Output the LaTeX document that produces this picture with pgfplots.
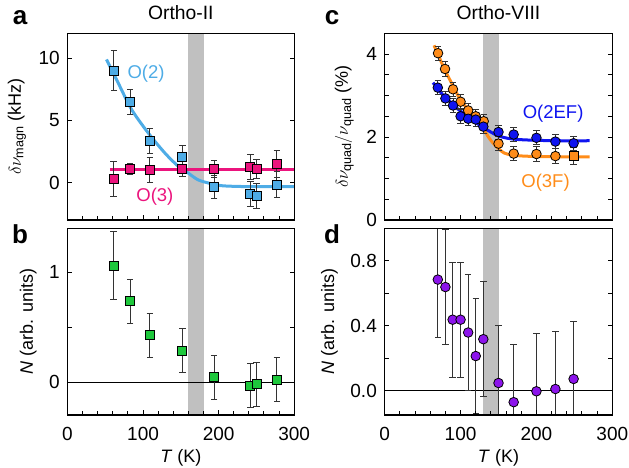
\documentclass[border=0pt]{standalone}
\usepackage{amsmath}
\usepackage{fontspec}
\setmainfont{Liberation Sans}
\usepackage{pgfplots}
\usepackage{pgfplotstable}
\pgfplotsset{compat=1.18}

\definecolor{cLB}{RGB}{78,172,230}
\definecolor{cMG}{RGB}{235,20,125}
\definecolor{cGR}{RGB}{30,200,60}
\definecolor{cOR}{RGB}{255,140,25}
\definecolor{cBL}{RGB}{15,20,240}
\definecolor{cPU}{RGB}{140,20,235}
\definecolor{cBand}{RGB}{192,192,192}

\pgfplotstableread{
T v e
61.4 9.0 1.6
83 6.48 1.0
109 3.36 1.0
152 2.03 0.98
194 -0.37 0.93
242 -0.94 1.0
250 -1.05 1.0
277 -0.16 1.06
}\dataOtwo

\pgfplotstableread{
T v e
61 0.3 1.4
83 1.1 0.45
109 1.05 1.0
152 1.1 0.6
194 1.1 0.7
242 1.29 1.0
250 1.1 0.75
277 1.48 1.1
}\dataOthree

\pgfplotstableread{
T v
51.6 9.9
67 8.02
85 5.86
107 3.98
129 2.37
147 1.29
160 0.76
173 0.22
190 -0.08
205 -0.25
230 -0.31
260 -0.32
300 -0.32
}\fitOtwo

\pgfplotstableread{
T v e
61 1.06 0.31
83 0.735 0.2
109 0.427 0.2
152 0.287 0.2
194 0.043 0.2
242 -0.034 0.2
250 -0.02 0.2
277 0.021 0.2
}\dataNb

\pgfplotstableread{
T v e
70.3 4.02 0.17
79.5 3.64 0.17
90 3.15 0.17
100 2.85 0.17
110 2.64 0.17
120 2.50 0.17
130.5 2.38 0.17
150 1.84 0.17
170 1.60 0.17
200 1.59 0.18
225 1.54 0.18
}\dataOthreeF

\pgfplotstableread{
T v e
249 1.55 0.2
}\dataOthreeFsq

\pgfplotstableread{
T v e
70 3.19 0.17
80 2.93 0.17
90 2.76 0.17
100 2.50 0.17
110 2.44 0.17
120 2.42 0.17
130 2.25 0.17
150 2.12 0.17
170 2.06 0.17
200 1.98 0.17
225 1.89 0.17
249 1.85 0.17
}\dataOtwoEF

\pgfplotstableread{
T v
63.7 3.31
75 3.05
87.8 2.82
98 2.65
109.8 2.50
118 2.38
127.3 2.26
138 2.14
149.3 2.03
162 1.97
175.7 1.94
200 1.92
230 1.91
270 1.91
}\fitOtwoEF

\pgfplotstableread{
T v
65 4.21
70 4.00
79 3.63
92.3 3.15
101 2.86
114 2.58
127.3 2.30
136 2.02
145 1.81
158 1.61
176 1.55
200 1.53
240 1.52
270 1.52
}\fitOthreeF

\pgfplotstableread{
T v e
70 0.684 0.355
80 0.638 0.355
89.5 0.437 0.355
100 0.437 0.355
110 0.358 0.355
120 0.213 0.355
130 0.317 0.355
150 0.047 0.355
170 -0.071 0.355
200 -0.004 0.355
225 0.010 0.355
249 0.072 0.355
}\dataNd

\pgfplotsset{
  myaxis/.style={
    scale only axis, height=186.7bp,
    xmin=0, xmax=300, xtick={0,100,200,300}, minor x tick num=4,
    xtick pos=left, ytick pos=both, tick align=inside,
    axis line style={line width=1.1bp, black},
    major tick style={line width=1bp, black},
    minor tick style={line width=1bp, black},
    major tick length=4.5bp, minor tick length=4bp,
    axis on top,
    /pgf/number format/assume math mode=true,
    tick label style={font=\fontsize{19bp}{22bp}\selectfont},
    label style={font=\fontsize{18bp}{21bp}\selectfont},
    yticklabel style={xshift=-1.5bp},
    xticklabel style={yshift=-6bp},
    title style={at={(0.5,1)}, anchor=base, yshift=8.3bp, font=\fontsize{19.3bp}{22bp}\selectfont},
    xlabel style={at={(0.5,0)}, anchor=base, yshift=-48bp},
  },
  eb/.style={error bars/.cd, y dir=both, y explicit,
    error bar style={line width=0.9bp, black!80},
    error mark options={rotate=90, mark size=3.2bp, line width=0.9bp, black!80}},
  sq/.style={only marks, mark=square*, mark size=4.5bp, mark options={draw=black, line width=0.8bp, fill=#1}},
  ci/.style={only marks, mark=*, mark size=4.8bp, mark options={draw=black, line width=0.8bp, fill=#1}},
}

\begin{document}
\fontsize{18.5bp}{22bp}\selectfont
\begin{tikzpicture}[x=1bp,y=1bp]
\path[use as bounding box] (0,0) rectangle (629,468);

% panel a
\begin{axis}[myaxis, at={(67.5bp,248bp)}, anchor=south west, width=226.7bp,
  ymin=-3, ymax=12, ytick={0,5,10}, xticklabel=\empty,
  title={Ortho-II}, ylabel={$\delta\nu_{\text{magn}}$ (kHz)}]
\addplot[fill=cBand, draw=none, forget plot] coordinates {(160,-3) (160,12) (180,12) (180,-3)} -- cycle;
\addplot[cLB, line width=3bp, smooth] table[x=T,y=v] {\fitOtwo};
\addplot[cMG, line width=3bp] coordinates {(56,1.08) (300,1.08)};
\addplot[sq=cLB, eb] table[x=T,y=v,y error=e] {\dataOtwo};
\addplot[sq=cMG, eb] table[x=T,y=v,y error=e] {\dataOthree};
\node[text=cLB] at (axis cs:104,8.77) {O(2)};
\node[text=cMG] at (axis cs:115.6,-1.13) {O(3)};
\end{axis}

% panel b
\begin{axis}[myaxis, at={(67.5bp,53bp)}, anchor=south west, width=226.7bp,
  ymin=-0.3, ymax=1.4, ytick={0,1}, minor ytick={0.5},
  xlabel={\textit{T} (K)}, ylabel={\textit{N} (arb. units)}]
\addplot[fill=cBand, draw=none, forget plot] coordinates {(160,-0.3) (160,1.4) (180,1.4) (180,-0.3)} -- cycle;
\addplot[black, line width=0.9bp] coordinates {(0,0) (300,0)};
\addplot[sq=cGR, eb] table[x=T,y=v,y error=e] {\dataNb};
\end{axis}

% panel c
\begin{axis}[myaxis, at={(384.7bp,248bp)}, anchor=south west, width=227.6bp,
  ymin=0, ymax=4.5, ytick={0,2,4}, minor ytick={0.5,1,1.5,2.5,3,3.5,4.5}, xticklabel=\empty,
  title={Ortho-VIII}, ylabel={$\delta\nu_{\text{quad}}/\nu_{\text{quad}}$ (\%)}]
\addplot[fill=cBand, draw=none, forget plot] coordinates {(130,0) (130,4.5) (150,4.5) (150,0)} -- cycle;
\addplot[cOR, line width=3bp, smooth] table[x=T,y=v] {\fitOthreeF};
\addplot[cBL, line width=3bp, smooth] table[x=T,y=v] {\fitOtwoEF};
\addplot[ci=cOR, eb] table[x=T,y=v,y error=e] {\dataOthreeF};
\addplot[sq=cOR, eb] table[x=T,y=v,y error=e] {\dataOthreeFsq};
\addplot[ci=cBL, eb] table[x=T,y=v,y error=e] {\dataOtwoEF};
\node[text=cBL] at (axis cs:222,2.56) {O(2EF)};
\node[text=cOR] at (axis cs:212,0.89) {O(3F)};
\end{axis}

% panel d
\begin{axis}[myaxis, at={(384.7bp,53bp)}, anchor=south west, width=227.6bp,
  ymin=-0.15, ymax=1.0, ytick={0,0.4,0.8}, minor ytick={0.2,0.6},
  yticklabel style={/pgf/number format/.cd, fixed, fixed zerofill, precision=1},
  xlabel={\textit{T} (K)}, ylabel={\textit{N} (arb. units)}]
\addplot[fill=cBand, draw=none, forget plot] coordinates {(130,-0.15) (130,1.0) (150,1.0) (150,-0.15)} -- cycle;
\addplot[black, line width=0.9bp] coordinates {(0,0) (300,0)};
\addplot[ci=cPU, eb] table[x=T,y=v,y error=e] {\dataNd};
\end{axis}

\node[font=\fontsize{26bp}{28bp}\selectfont\bfseries] at (20,450) {a};
\node[font=\fontsize{26bp}{28bp}\selectfont\bfseries] at (20,234) {b};
\node[font=\fontsize{26bp}{28bp}\selectfont\bfseries] at (332,450) {c};
\node[font=\fontsize{26bp}{28bp}\selectfont\bfseries] at (332,234) {d};
\end{tikzpicture}
\end{document}
